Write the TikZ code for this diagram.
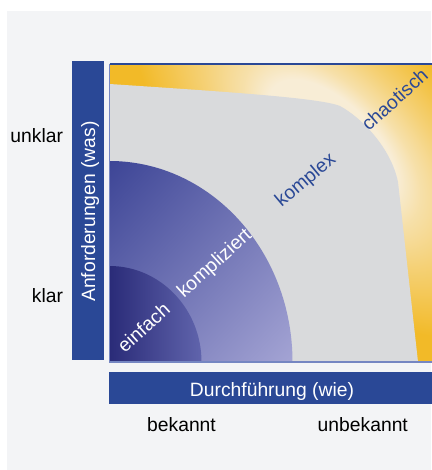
\documentclass[tikz,border=0pt]{standalone}
\usepackage{fontspec}
\setmainfont{Liberation Sans}
\usetikzlibrary{shadings}
\definecolor{cynPaper}{HTML}{F3F4F6}
\definecolor{cynBlue}{HTML}{2A4896}
\definecolor{cynRim}{HTML}{7586C2}
\definecolor{cynGray}{HTML}{D9DADC}
\definecolor{cynOrange}{HTML}{F2BA28}
\definecolor{cynCream}{HTML}{F8EDD6}
\definecolor{cynNavy}{HTML}{2A2B78}
\definecolor{cynIris}{HTML}{6064AC}
\definecolor{cynViolet}{HTML}{3D4596}
\definecolor{cynLilac}{HTML}{A4A4D4}
\colorlet{cynMid}{cynViolet!50!cynLilac}
% light halo around the complex domain, orange towards the rim
\pgfdeclareradialshading{cyn glow}{\pgfpointorigin}{%
  color(0bp)=(cynCream); color(8bp)=(cynCream);
  color(11bp)=(cynCream!75!cynOrange);
  color(16bp)=(cynCream!45!cynOrange);
  color(20.5bp)=(cynCream!22!cynOrange);
  color(25bp)=(cynOrange); color(50bp)=(cynOrange)}
\tikzset{
  cyn diagram/.style={
    x=1pt, y=1pt,
    every node/.style={font=\fontsize{19.3}{23}\selectfont,
      text=black, inner sep=0pt, outer sep=0pt}
  },
  cyn bar/.style={fill=cynBlue},
  cyn axis/.style={text=white},
  cyn light/.style={text=white, rotate=42},
  cyn dark/.style={text=cynBlue, rotate=42}
}
% quarter ellipse in the lower left corner of the field
\newcommand{\CynQuarter}[2]{%
  (109.5,108) -- ++(#1,0) arc[start angle=0, end angle=90,
    x radius=#1, y radius=#2] -- cycle}

\begin{document}
\begin{tikzpicture}[cyn diagram]
    \useasboundingbox (0,0) rectangle (431,470);
    \fill[cynPaper] (7,0) rectangle (431,459);
    \fill[cyn bar] (72,110) rectangle (104,409);
    \fill[cyn bar] (109,66) rectangle (433,98);
    % chaotic field
    \begin{scope}
      \clip (109.5,108) rectangle (433,406);
      \fill[cynOrange] (109.5,108) rectangle (433,406);
      \begin{scope}[transform canvas={rotate around={-44:(332,328)}}]
        \shade[shading=cyn glow] (332,328) ellipse [x radius=250, y radius=125];
      \end{scope}
    \end{scope}
    % complex domain
    \fill[cynGray] (109.5,108) -- (109.5,386)
      .. controls (230,378) and (320,372) .. (340,364)
      .. controls (362,352) and (391,322) .. (398,288)
      -- (418,108) -- cycle;
    \shade[upper left=cynViolet, lower right=cynLilac,
      upper right=cynMid, lower left=cynMid] \CynQuarter{183}{201};
    \shade[left color=cynNavy, right color=cynIris] \CynQuarter{92}{96};
    \draw[cynRim, line width=1.2pt] (433,108) -- (109.5,108) -- (109.5,406);
    \draw[cynBlue, line width=1.4pt] (109.5,406) -- (433,406);
    % axis texts
    \node[cyn axis, rotate=90, anchor=base] (was) at (95,258.5) {Anforderungen (was)};
    \node[cyn axis, anchor=base] (wie) at (272,73.3) {Durchführung (wie)};
    \node[anchor=base east] (unklar) at (63,327.7) {unklar};
    \node[anchor=base east] (klar) at (63,167) {klar};
    \node[anchor=base] (bekannt) at (181.5,38.3) {bekannt};
    \node[anchor=base] (unbekannt) at (362.8,38.3) {unbekannt};
    % domains
    \node[cyn light] (einfach) at (143.5,142.5) {einfach};
    \node[cyn light] (kompliziert) at (215,206) {kompliziert};
    \node[cyn dark, rotate=-2] (komplex) at (306,289) {komplex};
    \node[cyn dark] (chaotisch) at (394.5,370.5) {chaotisch};
\end{tikzpicture}
\end{document}
